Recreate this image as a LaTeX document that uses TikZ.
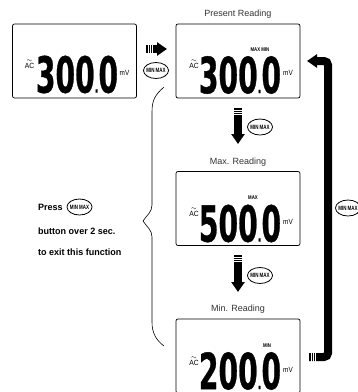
\documentclass[tikz,border=0pt]{standalone}
\usepackage{fontspec}
\setmainfont{Liberation Sans}
\newfontfamily\lcdfont[BoldFeatures={FakeBold=0.9}]{DejaVu Sans}
\usetikzlibrary{shapes.geometric, arrows.meta, positioning}
\newcommand{\lcdnum}[2]{#1\scalebox{0.35}{.}#2}
\tikzset{
  panel/.style={rectangle, rounded corners=2pt, draw=black, line width=0.7pt,
                minimum width=124pt, minimum height=74pt, inner sep=0pt},
  digits/.style={font=\lcdfont\bfseries\fontsize{30}{30}\selectfont, xscale=0.94, yscale=1.66, transform shape, inner sep=0pt},
  unit/.style={font=\fontsize{7.5}{7.5}\selectfont, xscale=0.85, transform shape, inner sep=0pt},
  acmark/.style={font=\fontsize{7.5}{6.5}\selectfont, align=center, xscale=0.9, transform shape, inner sep=0pt},
  flag/.style={font=\bfseries\fontsize{5.4}{5.4}\selectfont, xscale=0.8, transform shape, inner sep=0pt},
  caption/.style={font=\fontsize{9}{9}\selectfont, text=black!80, inner sep=0pt},
  note/.style={font=\bfseries\fontsize{9.2}{9.2}\selectfont, xscale=0.98, transform shape, inner sep=0pt},
  minmax/.style={ellipse, draw=black, line width=0.8pt, minimum width=25pt, minimum height=16pt,
                 inner sep=0pt},
  btntext/.style={font=\bfseries\fontsize{6.2}{6.2}\selectfont, xscale=0.72, transform shape, inner sep=0pt},
  fatarrow/.style={-{Triangle[length=10pt, width=13pt]}, line width=8pt},
  stripe/.style={draw=white, line width=0.6pt},
}
\newcommand{\btn}[2]{%
  \node[minmax] (#1) at (#2) {};
  \node[btntext] (#1text) at (#2) {MIN MAX};}
\begin{document}
\begin{tikzpicture}[x=1pt, y=-1pt]
  \clip (0,0) rectangle (358,392);
  \useasboundingbox (0,0) rectangle (358,392);

  % First display
  \node[panel] (plain) at (74.5,61) {};
  \node[digits] (plainnum) at (77,74.5) {\lcdnum{300}{0}};
  \node[acmark] (plainac) at (29.5,64) {$\sim$\\AC};
  \node[unit] (plainmv) at (124.5,73) {mV};

  % Present reading
  \node[panel] (present) at (238,61) {};
  \node[caption, above=5pt of present] (presentcap) {Present Reading};
  \node[digits] (presentnum) at (240,75) {\lcdnum{300}{0}};
  \node[acmark] (presentac) at (194,64) {$\sim$\\AC};
  \node[unit] (presentmv) at (288,73) {mV};
  \node[flag] (presentflag) at (260,50) {MAX MIN};

  % Max reading
  \node[panel] (maxread) at (238,208.5) {};
  \node[caption, above=5pt of maxread] (maxcap) {Max. Reading};
  \node[digits] (maxnum) at (240,223.5) {\lcdnum{500}{0}};
  \node[acmark] (maxac) at (194,212) {$\sim$\\AC};
  \node[unit] (maxmv) at (288,222) {mV};
  \node[flag] (maxflag) at (253,198) {MAX};

  % Min reading
  \node[panel] (minread) at (238,356) {};
  \node[caption, above=5pt of minread] (mincap) {Min. Reading};
  \node[digits] (minnum) at (240,371) {\lcdnum{200}{0}};
  \node[acmark] (minac) at (194,361) {$\sim$\\AC};
  \node[unit] (minmv) at (288,370) {mV};
  \node[flag] (minflag) at (267,346) {MIN};

  % Buttons
  \btn{btnfirst}{156,70.5}
  \btn{btnpresent}{260,127}
  \btn{btnmax}{260,275.5}
  \btn{btnback}{348,208}

  % Note
  \node[note, anchor=west] (press) at (38,207) {Press};
  \btn{btnnote}{79.5,207}
  \node[note, anchor=west] (overtwo) at (38,231) {button over 2 sec.};
  \node[note, anchor=west] (toexit) at (38,252) {to exit this function};

  % Brace
  \draw[line width=0.6pt] (164,87) .. controls (155,95) and (152,100) .. (152,112)
    -- (152,205) .. controls (152,212) and (147,215) .. (143,221)
    .. controls (147,227) and (152,230) .. (152,237)
    -- (152,322) .. controls (152,333) and (156,340) .. (164,346);

  % Arrows
  \coordinate (plainout) at (146,49);
  \coordinate (presentin) at (167,49);
  \coordinate (presentout) at (238,108);
  \coordinate (maxin) at (238,144);
  \coordinate (maxout) at (238,255);
  \coordinate (minin) at (238,292);
  \coordinate (minout) at (309,357);
  \coordinate (backin) at (307,61);

  \draw[fatarrow] (plainout) -- (presentin);
  \draw[fatarrow] (presentout) -- (maxin);
  \draw[fatarrow] (maxout) -- (minin);
  \draw[fatarrow, rounded corners=4pt] (minout) -| (328,61) -- (backin);

  \foreach \offs in {2,4.2,6.4}{
    \draw[stripe] ([xshift=\offs pt]plainout) ++(0,-5) -- ++(0,10);
    \draw[stripe] ([yshift=-\offs pt]presentout) ++(-5,0) -- ++(10,0);
    \draw[stripe] ([yshift=-\offs pt]maxout) ++(-5,0) -- ++(10,0);
    \draw[stripe] ([xshift=\offs pt]minout) ++(0,-5) -- ++(0,10);
  }
\end{tikzpicture}
\end{document}
